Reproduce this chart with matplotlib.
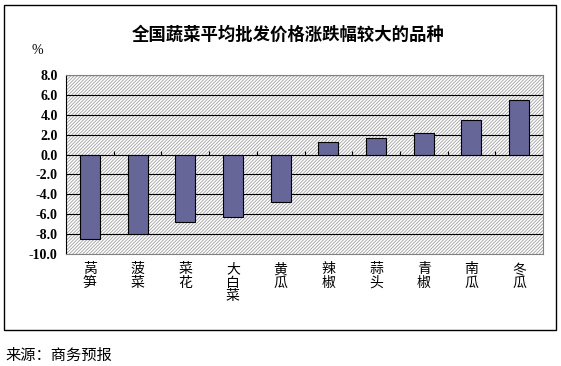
import matplotlib.pyplot as plt
from matplotlib.patches import Rectangle
import numpy as np

plt.rcParams['font.family'] = ['Noto Sans CJK SC', 'DejaVu Sans']
plt.rcParams['hatch.color'] = '#a0a0a0'
plt.rcParams['hatch.linewidth'] = 0.6

CATEGORIES = ["莴笋", "菠菜", "菜花", "大白菜", "黄瓜", "辣椒", "蒜头", "青椒", "南瓜", "冬瓜"]
CHANGE = [-8.5, -8.0, -6.8, -6.3, -4.8, 1.25, 1.7, 2.2, 3.5, 5.5]
Y_TICKS = np.arange(-10, 8.1, 2)

fig = plt.figure(figsize=(5.61, 3.66), dpi=100)

# outer frame
fig.patches.append(Rectangle((4 / 561, 1 - 330 / 366), 552 / 561, 325 / 366,
                             transform=fig.transFigure, fill=False,
                             edgecolor='black', linewidth=1.0))

ax = fig.add_axes([66 / 561, 1 - 254 / 366, 477 / 561, 179 / 366])

# hatched plot background
ax.add_patch(Rectangle((0, 0), 1, 1, transform=ax.transAxes, facecolor='white',
                       edgecolor='#a0a0a0', hatch='//////////', linewidth=0, zorder=0))

x = np.arange(len(CATEGORIES))
ax.bar(x, CHANGE, width=0.42, color='#666699', edgecolor='black', linewidth=0.8, zorder=3)

ax.set_xlim(-0.5, len(CATEGORIES) - 0.5)
ax.set_ylim(-10, 8)
ax.set_yticks(Y_TICKS)
ax.set_yticklabels([f"{v:.1f}" for v in Y_TICKS], family='Liberation Serif',
                   fontsize=10, fontweight='bold')
ax.tick_params(axis='y', length=0, pad=6)
for v in Y_TICKS[1:]:
    ax.axhline(v, color='black', linewidth=0.8, zorder=2)

# zero line tick marks at category boundaries
ax.vlines(np.arange(len(CATEGORIES) + 1) - 0.5, 0, 0.35, color='black', linewidth=0.8, zorder=2)

ax.set_xticks(x)
ax.set_xticklabels(["\n".join(c) for c in CATEGORIES], fontsize=10, linespacing=0.95,
                   va='top')
ax.tick_params(axis='x', length=0, pad=6)

for s in ['top', 'right', 'bottom']:
    ax.spines[s].set_color('#808080')
ax.spines['left'].set_color('black')

fig.text(288 / 561, 1 - 35 / 366, "全国蔬菜平均批发价格涨跌幅较大的品种", ha='center', va='center',
         fontsize=12.5, fontweight='bold')
fig.text(37 / 561, 1 - 50 / 366, "%", ha='center', va='center',
         family='Liberation Serif', fontsize=10)
fig.text(5 / 561, 1 - 355 / 366, "来源：商务预报", ha='left', va='center', fontsize=11)

fig.savefig("out.png", dpi=100)
